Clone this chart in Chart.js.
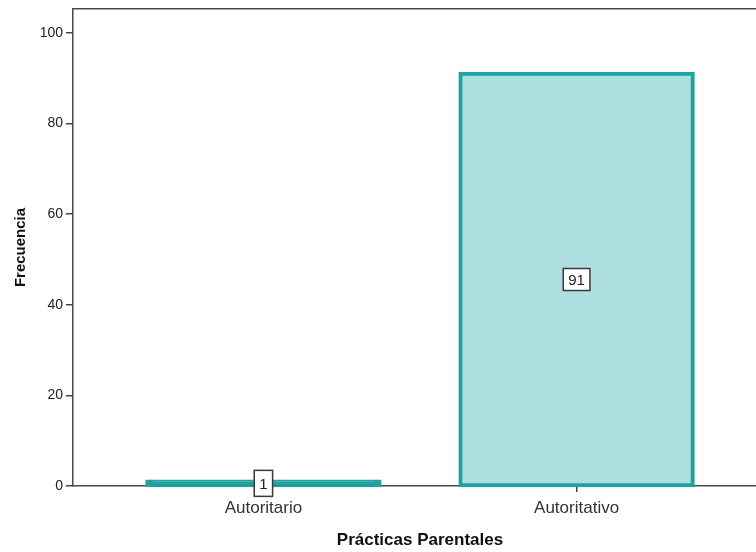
<!DOCTYPE html>
<html><head><meta charset="utf-8">
<script src="https://cdn.jsdelivr.net/npm/chart.js@4"></script>
<style>html,body{margin:0;padding:0;background:#fff;overflow:hidden;width:756px;height:552px}canvas{display:block}</style>
</head><body>
<canvas id="c" width="780" height="552"></canvas>
<script>
const categories = ['Autoritario', 'Autoritativo'];
const frequencies = [1, 91];
const yTicks = [0, 20, 40, 60, 80, 100];
const xTitle = 'Prácticas Parentales';
const yTitle = 'Frecuencia';

const FONT = '"Liberation Sans", Arial, Helvetica, sans-serif';
const FILL = '#AEDFE0';
const EDGE = '#1FA39E';

const labelBox = {
  id: 'labelBox',
  afterDatasetsDraw(chart) {
    const ctx = chart.ctx;
    const meta = chart.getDatasetMeta(0);
    meta.data.forEach((bar, i) => {
      const p = bar.getProps(['x', 'y', 'base'], true);
      const cy = (p.y + p.base) / 2;
      const txt = String(frequencies[i]);
      ctx.save();
      ctx.font = '15px ' + FONT;
      const w = ctx.measureText(txt).width + 10;
      const h = i === 0 ? 26 : 22;
      ctx.fillStyle = '#ffffff';
      ctx.fillRect(p.x - w / 2, cy - h / 2, w, h);
      ctx.strokeStyle = '#3a3a3a';
      ctx.lineWidth = 1.5;
      ctx.strokeRect(p.x - w / 2, cy - h / 2, w, h);
      ctx.fillStyle = '#222';
      ctx.textAlign = 'center';
      ctx.textBaseline = 'middle';
      ctx.fillText(txt, p.x, cy + 1);
      ctx.restore();
    });
  }
};

new Chart(document.getElementById('c').getContext('2d'), {
  type: 'bar',
  data: {
    datasets: [{
      data: categories.map((c, i) => ({ x: i, y: frequencies[i] })),
      backgroundColor: (c) => {
        const ys = c.chart.scales && c.chart.scales.y;
        const v = c.raw && c.raw.y;
        if (!ys || v == null) return FILL;
        const h = Math.abs(ys.getPixelForValue(v) - ys.getPixelForValue(0));
        return h < 8 ? EDGE : FILL;
      },
      borderColor: EDGE,
      borderWidth: 4,
      borderSkipped: false,
      inflateAmount: 2,
      clip: false,
      categoryPercentage: 1,
      barPercentage: 0.742
    }]
  },
  options: {
    responsive: false,
    animation: false,
    events: [],
    layout: { padding: { top: 9, right: 13, left: 0, bottom: 0 } },
    plugins: { legend: { display: false }, tooltip: { enabled: false } },
    scales: {
      x: {
        type: 'linear',
        position: 'bottom',
        min: -0.608,
        max: 1.608,
        offset: false,
        afterBuildTicks(s) { s.ticks = categories.map((c, i) => ({ value: i })); },
        afterFit(s) { s.height = 66; s.paddingLeft = 0; s.paddingRight = 0; },
        grid: { offset: false, drawOnChartArea: false, drawTicks: true, tickLength: 6, color: '#444', lineWidth: 1.5 },
        border: { display: true, color: '#4a4a4a', width: 1.5 },
        ticks: { callback: (v) => categories[v], color: '#333', font: { size: 17, family: FONT }, padding: 6, maxRotation: 0, autoSkip: false },
        title: { display: true, text: xTitle, color: '#111', font: { size: 17, weight: 'bold', family: FONT }, padding: { top: 0, bottom: 1 } }
      },
      xTop: {
        type: 'linear',
        position: 'top',
        display: true,
        grid: { display: false },
        ticks: { display: false },
        border: { display: true, color: '#4a4a4a', width: 1.5 },
        afterFit(s) { s.height = 0; s.paddingLeft = 0; s.paddingRight = 0; }
      },
      y: {
        min: 0,
        max: 105.3,
        afterBuildTicks(s) { s.ticks = yTicks.map(v => ({ value: v })); },
        afterFit(s) { s.width = 73; s.paddingTop = 0; s.paddingBottom = 0; },
        grid: { drawOnChartArea: false, drawTicks: true, tickLength: 7, color: '#444', lineWidth: 1.5 },
        border: { display: true, color: '#4a4a4a', width: 1.5 },
        ticks: { color: '#222', font: { size: 14, family: FONT }, padding: 3 },
        title: { display: true, text: yTitle, color: '#111', font: { size: 15, weight: 'bold', family: FONT }, padding: { top: 12, bottom: 0 } }
      }
    }
  },
  plugins: [labelBox]
});
</script>
</body></html>
